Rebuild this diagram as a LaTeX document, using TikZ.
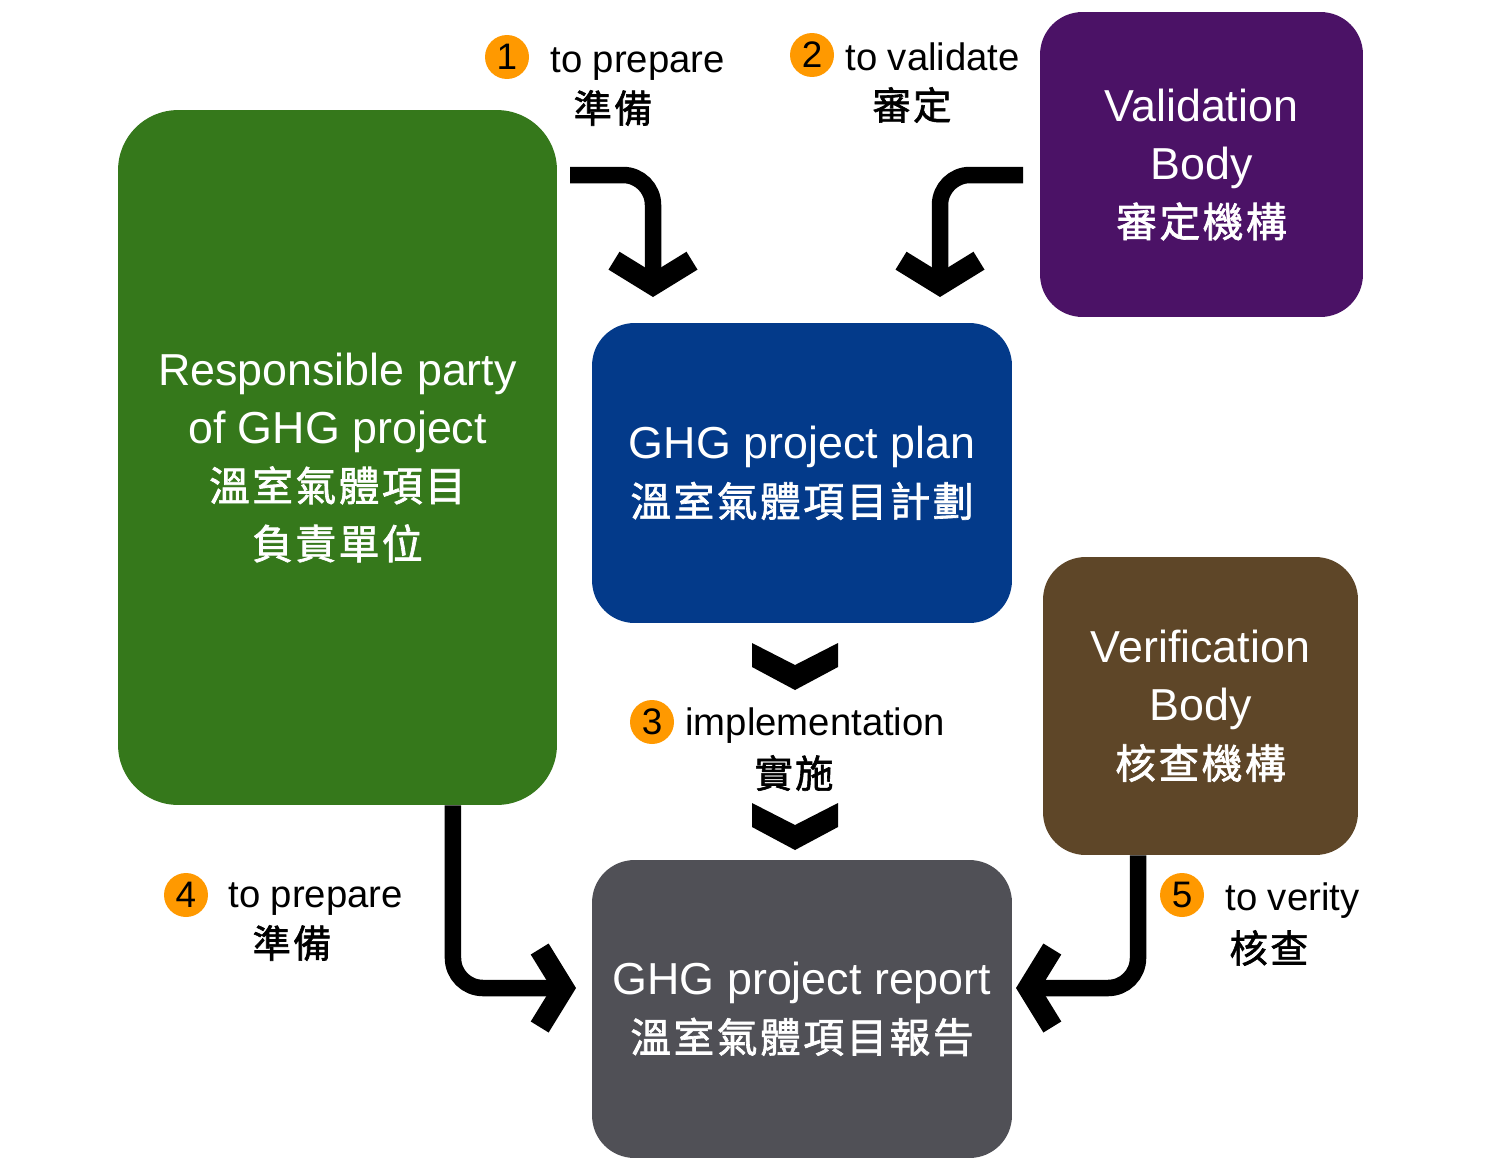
\documentclass[tikz,border=0pt]{standalone}
\usepackage{fontspec}
\setmainfont{Liberation Sans}
\newfontfamily\cjk{Noto Sans CJK TC}[LetterSpace=6,FakeBold=1.6]
\usetikzlibrary{arrows.meta}
\definecolor{partygreen}{RGB}{53,120,27}
\definecolor{validpurple}{RGB}{75,18,102}
\definecolor{planblue}{RGB}{3,58,138}
\definecolor{verifbrown}{RGB}{94,70,40}
\definecolor{reportgray}{RGB}{80,80,86}
\definecolor{numorange}{RGB}{255,153,0}
\newcommand{\zh}[1]{{\cjk\fontsize{23.2}{33}\selectfont #1}}
\newcommand{\zhl}[1]{{\cjk\fontsize{21.8}{28}\selectfont #1}}

\begin{document}
\begin{tikzpicture}[x=0.02cm,y=-0.02cm,
    box/.style={rounded corners=0.85cm, text=white, align=center, inner sep=0pt,
      font=\fontsize{25.5}{33}\selectfont},
    num/.style={circle, fill=numorange, minimum size=0.88cm, inner sep=0pt,
      font=\fontsize{21}{21}\selectfont},
    lbl/.style={inner sep=0pt, font=\fontsize{21.8}{26}\selectfont},
    flow/.style={line width=0.33cm, rounded corners=0.6cm,
      -{Straight Barb[length=0.48cm,width=1.56cm,line width'=0.42cm,sharp]}},
    chev/.style={fill=black}]
  \useasboundingbox (0,0) rectangle (1500,1170);
  %boxes
  \node[box, fill=partygreen, minimum width=8.78cm, minimum height=13.9cm, rounded corners=1.2cm]
    (party) at (337.5,457.5) {Responsible party\\ of GHG project\\ \zh{溫室氣體項目}\\ \zh{負責單位}};
  \node[box, fill=validpurple, minimum width=6.46cm, minimum height=6.1cm]
    (valid) at (1201.5,164.5) {Validation\\ Body\\ \zh{審定機構}};
  \node[box, fill=planblue, minimum width=8.4cm, minimum height=6cm]
    (plan) at (802,473) {GHG project plan\\ \zh{溫室氣體項目計劃}};
  \node[box, fill=verifbrown, minimum width=6.3cm, minimum height=5.96cm]
    (verif) at (1200.5,706) {Verification\\ Body\\ \zh{核查機構}};
  \node[box, fill=reportgray, minimum width=8.4cm, minimum height=5.96cm]
    (report) at (802,1009) {GHG project report\\ \zh{溫室氣體項目報告}};
  %labels
  \node[num] (n1) at (507,57) {1};
  \node[lbl, anchor=base west] (t1) at (550,72) {to prepare};
  \node[lbl] (c1) at (613,108) {\zhl{準備}};
  \node[num] (n2) at (812,55) {2};
  \node[lbl, anchor=base west] (t2) at (845,70) {to validate};
  \node[lbl] (c2) at (912,105) {\zhl{審定}};
  \node[num] (n3) at (652,722) {3};
  \node[lbl, anchor=base west] (t3) at (685,735) {implementation};
  \node[lbl] (c3) at (794,773) {\zhl{實施}};
  \node[num] (n4) at (186,895) {4};
  \node[lbl, anchor=base west] (t4) at (228,907) {to prepare};
  \node[lbl] (c4) at (292,943) {\zhl{準備}};
  \node[num] (n5) at (1182,895) {5};
  \node[lbl, anchor=base west] (t5) at (1225,910) {to verity};
  \node[lbl] (c5) at (1269,948) {\zhl{核查}};
  %arrows
  \coordinate (a1) at (570,175);
  \coordinate (a1e) at (653,297);
  \coordinate (a2) at (1023,175);
  \coordinate (a2e) at (940,297);
  \coordinate (a4) at ([xshift=2.31cm]party.south);
  \coordinate (a4e) at (576,988);
  \coordinate (a5) at ([xshift=-1.25cm]verif.south);
  \coordinate (a5e) at (1016,988);
  \draw[flow] (a1) -| (a1e);
  \draw[flow] (a2) -| (a2e);
  \draw[flow] (a4) |- (a4e);
  \draw[flow] (a5) |- (a5e);
  \fill[chev] (752,643) -- (795,665) -- (838,643) -- (838,667) -- (795,690) -- (752,667) -- cycle;
  \fill[chev] (752,803) -- (795,825) -- (838,803) -- (838,827) -- (795,850) -- (752,827) -- cycle;
\end{tikzpicture}
\end{document}
